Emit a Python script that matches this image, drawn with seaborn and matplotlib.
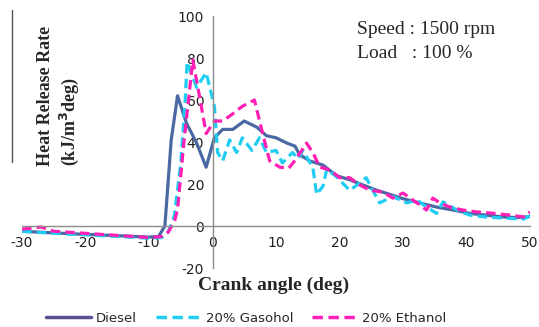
import matplotlib
matplotlib.use('Agg')
import matplotlib.pyplot as plt
import seaborn as sns
from matplotlib.lines import Line2D

# crank angle (deg) and heat release rate (kJ/m3deg)
diesel_angle = [-30, -25, -20, -15, -10, -8.5, -7.5, -6.5, -5.5, -4.1, -2.5, -1, 0.3, 1.6, 3.2,
                5, 7, 8.5, 10, 11.7, 13, 13.7, 15.3, 17.4, 19.5, 21.6, 23.7, 25.9, 28, 30,
                32.6, 35.3, 37.9, 40.5, 43, 45.7, 48, 50]
diesel_hrr = [-2.5, -3.3, -4, -4.6, -5.3, -5, 0, 41, 62, 49, 39.5, 28, 42, 46, 46,
              50, 47, 43, 42, 39.5, 38, 34, 31, 29, 24, 22, 19.5, 17, 15, 13,
              11, 9, 7.6, 6, 5.2, 4.3, 4, 4.5]

gasohol_angle = [-30, -25, -20, -15, -10, -8, -7, -6, -5, -4.3, -4, -2.5, -1, 0.3, 0.8, 1.6,
                 2.7, 3.8, 4.7, 6.2, 7.4, 8.5, 10, 11, 12.6, 13.5, 14.2, 15.8, 16.4, 17.4,
                 18, 19.5, 21.6, 23.2, 24.2, 26.3, 28.4, 30.6, 32.2, 33.7, 35.3, 36.3,
                 38.5, 40.5, 43, 45.7, 49, 50]
gasohol_hrr = [-2.5, -3.5, -4.2, -5, -5.8, -5.5, -3, 5, 30, 60, 78, 66, 73, 57, 35, 31,
               41, 35, 42, 36, 42, 35, 36, 30, 35, 32, 36, 28, 15, 19,
               27, 23.5, 17, 20.5, 23, 11, 14, 11, 12.4, 9, 6, 11.5,
               7.6, 5.2, 4.3, 3.8, 3.3, 5]

ethanol_angle = [-30, -27, -25, -20, -15, -10, -8, -7, -6, -5.5, -4.5, -3.1, -2, -1, 0.3,
                 1.6, 3, 4.7, 6.6, 7.9, 9, 10.6, 12, 13.2, 14.8, 15.8, 16.9, 18.5, 20,
                 21.6, 23.2, 24.8, 26.8, 28.4, 30, 32.2, 33.7, 34.7, 35.8, 37.4, 39.4,
                 41.6, 43.7, 46.8, 49, 50]
ethanol_hrr = [-1.5, -0.5, -2.5, -3.5, -4.5, -5.5, -5, -3, 2, 8, 40, 79, 61, 44, 50,
               50, 53, 57, 60, 44, 31, 28, 27.5, 32, 39.5, 35, 28, 26.7, 23,
               23, 19.5, 17, 16.2, 13.3, 15.7, 11, 7.6, 13.3, 11, 9, 7.6,
               6.7, 6.2, 5.2, 4.3, 6.7]

labels = ['Diesel', '20% Gasohol', '20% Ethanol']

sns.set_style('white')
plt.rcParams['font.family'] = ['DejaVu Sans']
plt.rcParams['axes.unicode_minus'] = False

fig = plt.figure(figsize=(5.39, 3.27), dpi=100)
ax = fig.add_axes([22 / 539, 59 / 327, 508 / 539, 252 / 327])

blue = '#4a68a2'
cyan = '#1fcdf2'
pink = '#ff1fb4'
dash = (0, (3, 1.6))

sns.lineplot(x=diesel_angle, y=diesel_hrr, ax=ax, color=blue, linewidth=2.3)
sns.lineplot(x=gasohol_angle, y=gasohol_hrr, ax=ax, color=cyan, linewidth=2.3, linestyle=dash)
sns.lineplot(x=ethanol_angle, y=ethanol_hrr, ax=ax, color=pink, linewidth=2.3, linestyle=dash)

ax.set_xlim(-30, 50)
ax.set_ylim(-20, 100)
ax.set_xticks(range(-30, 51, 10))
ax.set_yticks(range(-20, 101, 20))

# Excel-style axes crossing at zero
for s in ['top', 'right']:
    ax.spines[s].set_visible(False)
ax.spines['left'].set_position(('data', 0))
ax.spines['bottom'].set_position(('data', 0))
for s in ['left', 'bottom']:
    ax.spines[s].set_color('#8c8c8c')
    ax.spines[s].set_linewidth(1)
ax.tick_params(direction='out', length=4, width=1, color='#8c8c8c',
               labelsize=10, labelcolor='#222222')
ax.tick_params(axis='x', pad=3)
ax.tick_params(axis='y', pad=2)
ax.set_xlabel('')
ax.set_ylabel('')

fig.text(274 / 539, 1 - 285 / 327, 'Crank angle (deg)', family='Liberation Serif',
         fontweight='bold', fontsize=14, ha='center', va='center')
fig.text(59 / 539, 1 - 166 / 327, 'Heat Release Rate\n(kJ/m$^\\mathbf{3}$deg)',
         family='Liberation Serif', fontweight='bold', fontsize=13, rotation=90,
         ha='center', va='bottom', multialignment='left', linespacing=1.25)
fig.text(357 / 539, 1 - 30 / 327, 'Speed : 1500 rpm', family='Liberation Serif',
         fontsize=14, ha='left', va='center')
fig.text(357 / 539, 1 - 53 / 327, 'Load   : 100 %', family='Liberation Serif',
         fontsize=14, ha='left', va='center')

# stray vertical rule at the left edge
fig.add_artist(Line2D([12 / 539, 12 / 539], [1 - 10 / 327, 1 - 162 / 327],
                      color='#555555', linewidth=1))

handles = [Line2D([], [], color='#5e4f95', linewidth=2.5),
           Line2D([], [], color=cyan, linewidth=2.5, linestyle=dash),
           Line2D([], [], color=pink, linewidth=2.5, linestyle=dash)]
fig.legend(handles, labels, loc='center', bbox_to_anchor=(246 / 539, 1 - 318 / 327),
           ncol=3, frameon=False, fontsize=9.5, handlelength=3.4, handletextpad=0.4,
           columnspacing=1.4)

fig.savefig('out.png', dpi=100)
